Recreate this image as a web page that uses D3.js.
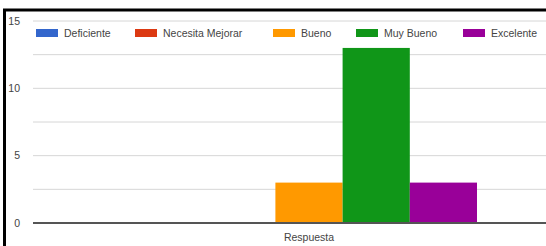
<!DOCTYPE html>
<html>
<head>
<meta charset="utf-8">
<style>
body { margin: 0; background: #fff; }
text { font-family: "Liberation Sans", Arial, sans-serif; fill: #444; }
</style>
</head>
<body>
<script src="https://cdn.jsdelivr.net/npm/d3@7"></script>
<script>

var categories = ["Deficiente", "Necesita Mejorar", "Bueno", "Muy Bueno", "Excelente"];
var values = [0, 0, 3, 13, 3];
var colors = ["#3366cc", "#dc3912", "#ff9900", "#109618", "#990099"];
var group = "Respuesta";
var yTicks = [0, 5, 10, 15];
var gridTicks = [0, 2.5, 5, 7.5, 10, 12.5, 15];

var width = 546, height = 246;

var svg = d3.select("body").append("svg")
    .attr("width", width)
    .attr("height", height);

// frame
svg.append("rect").attr("x", 0).attr("y", 0).attr("width", width).attr("height", height).attr("fill", "#fff");
svg.append("line").attr("x1", 3).attr("x2", width).attr("y1", 10).attr("y2", 10)
    .attr("stroke", "#000").attr("stroke-width", 3);
svg.append("line").attr("x1", 4.5).attr("x2", 4.5).attr("y1", 9).attr("y2", height)
    .attr("stroke", "#000").attr("stroke-width", 3);

var plotLeft = 33, plotRight = 585;

var y = d3.scaleLinear().domain([0, 15]).range([223, 21]);

var x0 = d3.scaleBand().domain([group]).range([plotLeft, plotRight]).paddingInner(0).paddingOuter(0.3214);
var x1 = d3.scaleBand().domain(categories).range([0, x0.bandwidth()]);

// gridlines
svg.append("g").selectAll("line")
    .data(gridTicks.filter(function(d) { return d > 0; }))
    .enter().append("line")
    .attr("x1", plotLeft).attr("x2", width)
    .attr("y1", function(d) { return y(d); })
    .attr("y2", function(d) { return y(d); })
    .attr("stroke", "#d6d6d6")
    .attr("stroke-width", 1);

// y labels
svg.append("g").selectAll("text")
    .data(yTicks)
    .enter().append("text")
    .attr("x", 20)
    .attr("y", function(d) { return y(d); })
    .attr("dy", "0.35em")
    .attr("text-anchor", "end")
    .style("font-size", "10.5px")
    .text(function(d) { return d; });

// bars
svg.append("g").selectAll("rect")
    .data(categories)
    .enter().append("rect")
    .attr("x", function(d) { return x0(group) + x1(d); })
    .attr("width", x1.bandwidth())
    .attr("y", function(d, i) { return y(values[i]); })
    .attr("height", function(d, i) { return y(0) - y(values[i]); })
    .attr("fill", function(d, i) { return colors[i]; });

// baseline
svg.append("line")
    .attr("x1", plotLeft).attr("x2", width)
    .attr("y1", y(0)).attr("y2", y(0))
    .attr("stroke", "#555").attr("stroke-width", 2);

// x label
svg.append("text")
    .attr("x", x0(group) + x0.bandwidth() / 2)
    .attr("y", 241)
    .attr("text-anchor", "middle")
    .style("font-size", "10.5px")
    .text(group);

// legend
var legendX = [36, 135, 273, 356, 463];
var legend = svg.append("g").selectAll("g")
    .data(categories)
    .enter().append("g")
    .attr("transform", function(d, i) { return "translate(" + legendX[i] + ",29)"; });

legend.append("rect")
    .attr("width", 22).attr("height", 8)
    .attr("fill", function(d, i) { return colors[i]; });

legend.append("text")
    .attr("x", 28).attr("y", 4)
    .attr("dy", "0.35em")
    .style("font-size", "10.5px")
    .text(function(d) { return d; });

</script>
</body>
</html>
